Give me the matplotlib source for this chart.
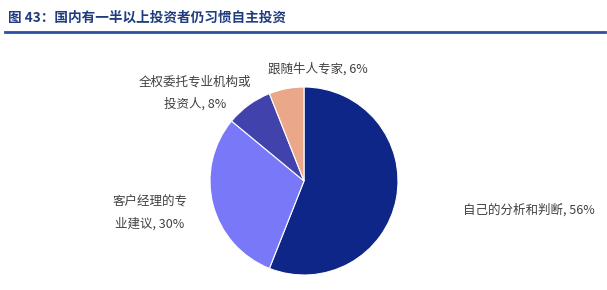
import matplotlib.pyplot as plt

plt.rcParams['font.family'] = ['Noto Sans CJK SC', 'DejaVu Sans']

labels = ["自己的分析和判断, 56%", "客户经理的专\n业建议, 30%", "全权委托专业机构或\n投资人, 8%", "跟随牛人专家, 6%"]
values = [56, 30, 8, 6]
colors = ["#0E2688", "#7878F8", "#4242AC", "#EBA78A"]

W, H = 607, 290
fig = plt.figure(figsize=(W / 100, H / 100), dpi=100)

# title + rule
fig.text(8 / W, 1 - 18 / H, "图 43：国内有一半以上投资者仍习惯自主投资", fontsize=9.8,
         weight="bold", color="#1F3C7E", ha="left", va="center")
fig.add_artist(plt.Line2D([5 / W, 1 - 2 / W], [1 - 32 / H, 1 - 32 / H], color="#2E4E9E", lw=2))

# pie
cx, cy, r = 304, 181, 94
ax = fig.add_axes([(cx - r) / W, (H - cy - r) / H, 2 * r / W, 2 * r / H])
ax.pie(values, colors=colors, startangle=90, counterclock=False,
       wedgeprops=dict(edgecolor="white", linewidth=0.8))
ax.set_xlim(-1, 1)
ax.set_ylim(-1, 1)
ax.axis("off")

tc = "#404040"
fs = 9
pos = [(463, 210, "left"), (150, 213, "center"), (195, 93, "center"), (318, 69, "center")]
for (x, y, ha), lab in zip(pos, labels):
    fig.text(x / W, 1 - y / H, lab, fontsize=fs, color=tc, ha=ha, va="center", linespacing=1.9)

fig.savefig("out.png", dpi=100)
